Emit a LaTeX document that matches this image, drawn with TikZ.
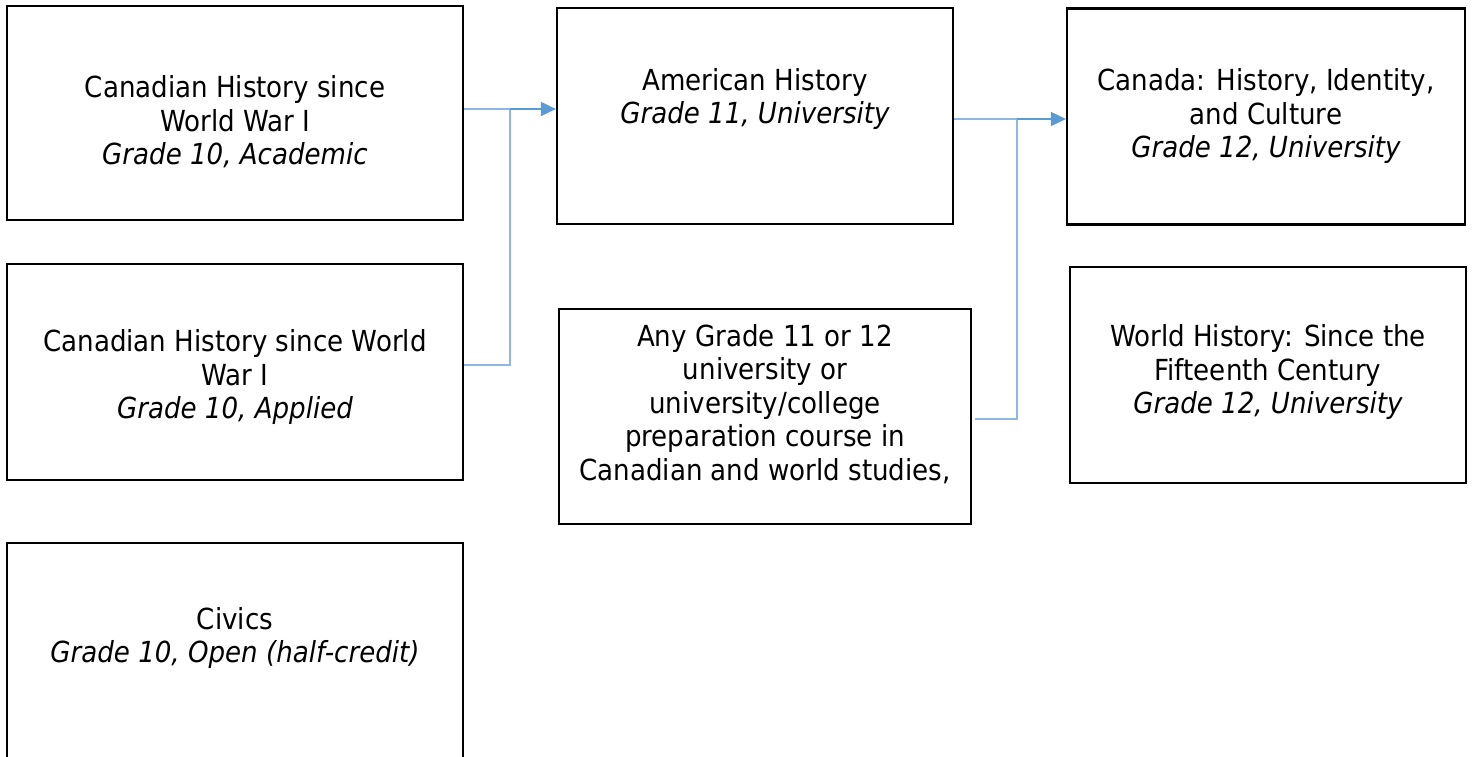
\documentclass[tikz,border=0pt]{standalone}
\usepackage{fontspec}
\setmainfont{DejaVu Sans}[FakeStretch=0.9]
\usetikzlibrary{arrows.meta}
\definecolor{litblue}{RGB}{141,184,226}
\definecolor{arrblue}{RGB}{91,155,213}
\begin{document}
\begin{tikzpicture}[x=1pt,y=-1pt,
  box/.style={draw=black,line width=2.2pt,inner sep=0pt},
  txt/.style={align=center,font=\fontsize{29}{33.5}\selectfont,inner sep=0pt},
  litline/.style={draw=litblue,line width=1.8pt},
  arrline/.style={draw=arrblue,line width=1.8pt,-{Triangle[length=15pt,width=14pt]}}]
\useasboundingbox (0,0) rectangle (1473,757);
% boxes
\node[box,minimum width=456pt,minimum height=214pt] (b1) at (235,113) {};
\node[box,minimum width=456pt,minimum height=216pt] (b2) at (235,372) {};
\node[box,minimum width=456pt,minimum height=240pt] (b3) at (235,663) {};
\node[box,minimum width=396pt,minimum height=216pt] (b4) at (755,116) {};
\node[box,minimum width=412pt,minimum height=215pt] (b5) at (765,416.5) {};
\node[box,minimum width=398pt,minimum height=216pt] (b6) at (1266,116.5) {};
\node[box,minimum width=396pt,minimum height=216pt] (b7) at (1268,375) {};
% texts
\node[txt] (t1) at (235,122) {Canadian History since\\World War I\\\itshape Grade 10, Academic};
\node[txt] (t2) at (235,377) {Canadian History since World\\War I\\\itshape Grade 10, Applied};
\node[txt] (t3) at (235,638) {Civics\\\itshape Grade 10, Open (half-credit)};
\node[txt] (t4) at (755,99) {American History\\\itshape Grade 11, University};
\node[txt] (t5) at (765,404) {Any Grade 11 or 12\\university or\\university/college\\preparation course in\\Canadian and world studies,};
\node[txt] (t6) at (1266,116) {Canada: History, Identity,\\and Culture\\\itshape Grade 12, University};
\node[txt] (t7) at (1268,372) {World History: Since the\\Fifteenth Century\\\itshape Grade 12, University};
% junctions
\coordinate (j1) at (510,109);
\coordinate (j1b) at (510,365);
\coordinate (j2) at (1017,119);
\coordinate (j2b) at (1017,419);
% connectors
\draw[litline] (b1.east |- j1) -- (j1);
\draw[litline] (b2.east |- j1b) -- (j1b) -- (j1);
\draw[arrline] (j1) -- (b4.west |- j1);
\draw[litline] (b4.east |- j2) -- (j2);
\draw[litline] ([xshift=3pt]b5.east |- j2b) -- (j2b) -- (j2);
\draw[arrline] (j2) -- (b6.west |- j2);
\end{tikzpicture}
\end{document}
